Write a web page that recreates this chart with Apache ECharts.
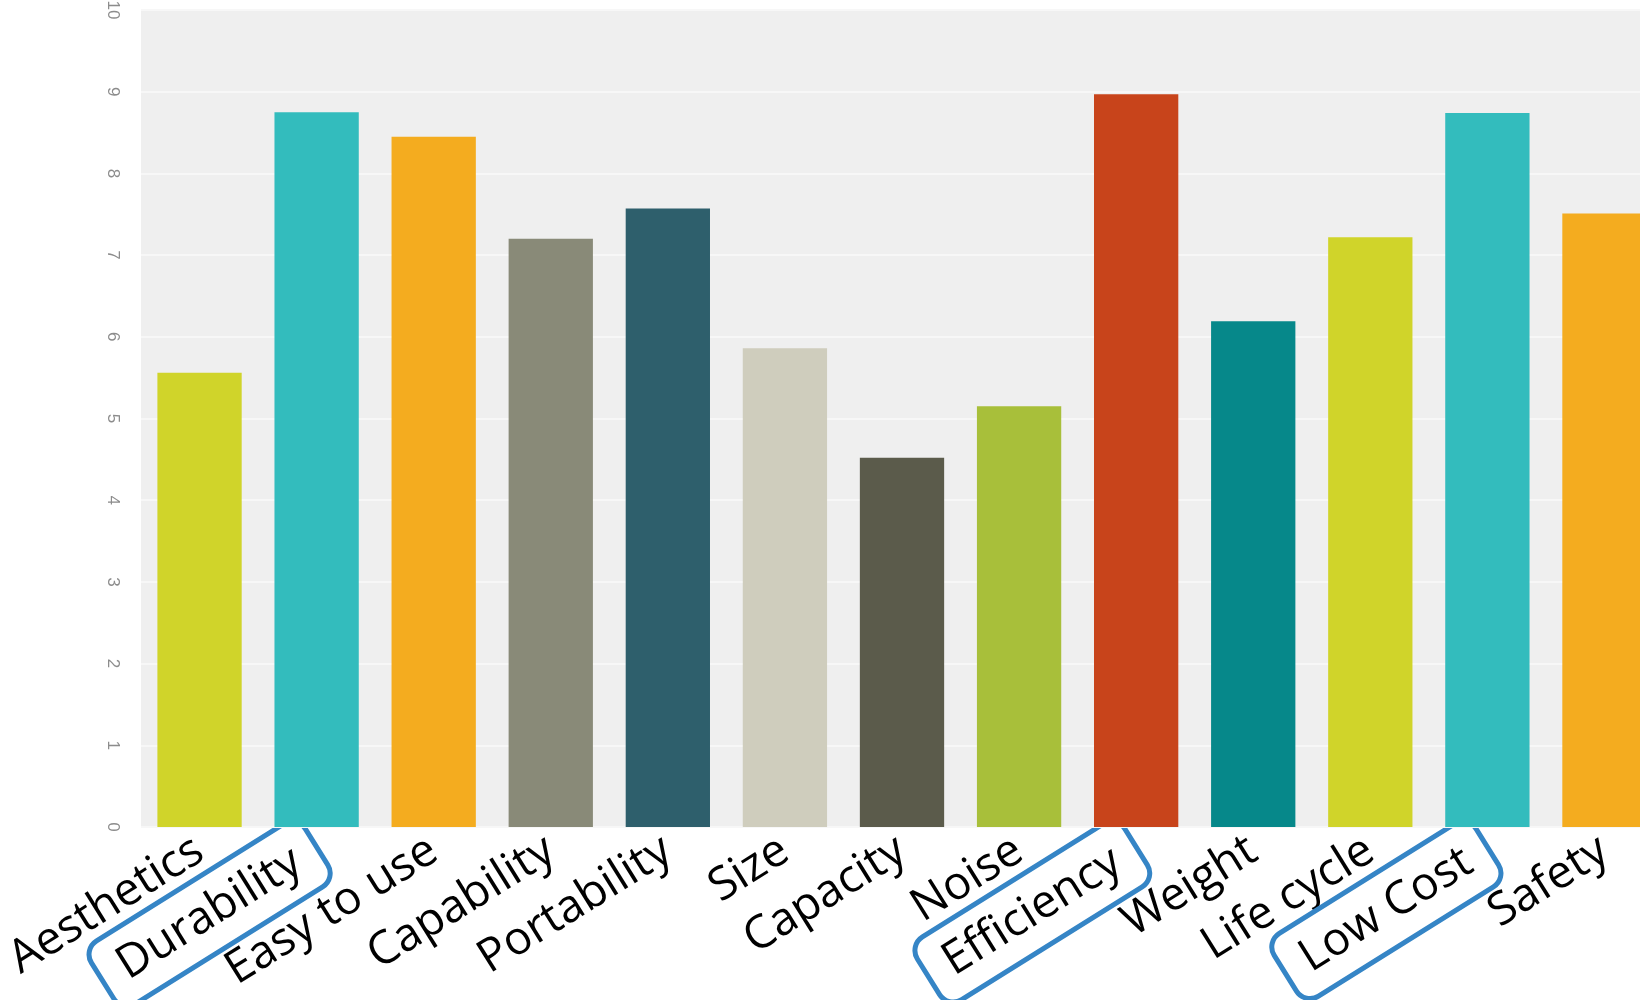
<!DOCTYPE html>
<html>
<head>
<meta charset="utf-8">
<script src="https://cdn.jsdelivr.net/npm/echarts@6/dist/echarts.min.js"></script>
<style>
  html, body { margin: 0; padding: 0; background: #ffffff; }
  #chart { width: 1640px; height: 1000px; }
</style>
</head>
<body>
<div id="chart"></div>
<script>
// Product attribute scores (0–10)
const categories = ['Aesthetics', 'Durability', 'Easy to use', 'Capability', 'Portability', 'Size',
  'Capacity', 'Noise', 'Efficiency', 'Weight', 'Life cycle', 'Low Cost', 'Safety'];
const scores = [5.56, 8.75, 8.45, 7.2, 7.57, 5.86, 4.52, 5.15, 8.97, 6.19, 7.22, 8.74, 7.51];
const barColors = ['#d0d42a', '#33bcbd', '#f4ac1f', '#898a78', '#2e5f6c', '#cfcdbd',
  '#5b5b4b', '#a8bf3a', '#c8441b', '#06888a', '#d0d42a', '#33bcbd', '#f4ac1f'];
// Attributes called out with an outlined label
const highlighted = ['Durability', 'Efficiency', 'Low Cost'];
const yTicks = [0, 10, 1]; // min, max, step

const chart = echarts.init(document.getElementById('chart'), null, { renderer: 'canvas' });

const categoryData = categories.map(name => highlighted.includes(name)
  ? { value: name, textStyle: { borderColor: '#3585c6', borderWidth: 5, borderRadius: 16, padding: [14, 22, 14, 22] } }
  : name);

chart.setOption({
  animation: false,
  backgroundColor: '#ffffff',
  grid: {
    left: 141, top: 10, bottom: 173, width: 1522,
    containLabel: false, outerBoundsMode: 'none',
    show: true, backgroundColor: '#efefef', borderWidth: 0, z: 1
  },
  xAxis: {
    type: 'category',
    data: categoryData,
    z: 0,
    axisLine: { show: false },
    axisTick: { show: false },
    axisLabel: {
      interval: 0, rotate: 32, margin: 20,
      color: '#000000', fontFamily: 'Open Sans', fontSize: 46
    }
  },
  yAxis: {
    type: 'value',
    min: yTicks[0], max: yTicks[1], interval: yTicks[2],
    z: 2,
    axisLine: { show: false },
    axisTick: { show: false },
    splitLine: { lineStyle: { color: '#f7f7f7', width: 2 } },
    axisLabel: {
      rotate: -90, margin: 20,
      color: '#8c8c8c', fontFamily: 'Liberation Sans', fontSize: 17
    }
  },
  series: [{
    type: 'bar',
    z: 3,
    barCategoryGap: '28%',
    data: scores.map((v, i) => ({ value: v, itemStyle: { color: barColors[i] } }))
  }]
});
</script>
</body>
</html>
